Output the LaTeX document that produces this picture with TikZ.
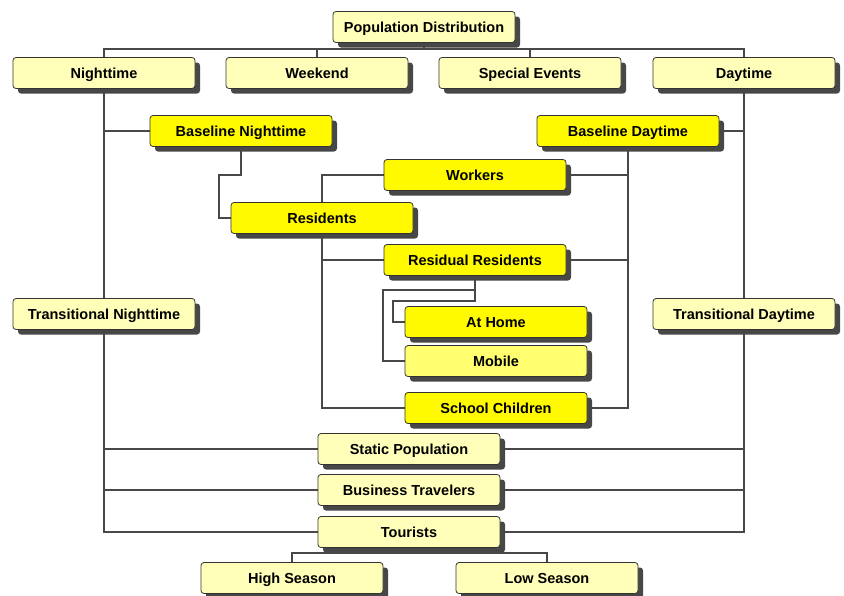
\documentclass[tikz,border=0pt]{standalone}
\usepackage{fontspec}
\setsansfont{Liberation Sans}
\usepackage{tikz}
\usetikzlibrary{shadows,backgrounds}

\definecolor{pale}{RGB}{255,255,186}
\definecolor{bright}{RGB}{255,250,0}
\definecolor{mid}{RGB}{255,255,112}
\definecolor{wire}{RGB}{72,72,72}

\begin{document}
\begin{tikzpicture}	[
		x = 1pt,
		y = -1pt,
		box/.style = {
			draw = black!80,
			line width = .8pt,
			rounded corners = 3pt,
			minimum width = 182pt,
			minimum height = 31pt,
			inner sep = 0pt,
			text height = 12pt,
			text depth = 1.6pt,
			font = \sffamily\bfseries\fontsize{14.5}{16}\selectfont,
			drop shadow = {shadow xshift = 5pt, shadow yshift = -5pt, fill = black!72, opacity = 1}
		},
		pbox/.style = {box, fill = pale},
		ybox/.style = {box, fill = bright},
		link/.style = {draw = wire, line width = 1.9pt}
	]
	\useasboundingbox (0,0) rectangle (844,595);

	\node [pbox] (popdist) at (424,27) {Population Distribution};

	\node [pbox] (night) at (104,73) {Nighttime};
	\node [pbox] (weekend) at (317,73) {Weekend};
	\node [pbox] (special) at (530,73) {Special Events};
	\node [pbox] (day) at (744,73) {Daytime};

	\node [ybox] (basenight) at (241,131) {Baseline Nighttime};
	\node [ybox] (baseday) at (628,131) {Baseline Daytime};

	\node [ybox] (workers) at (475,175) {Workers};
	\node [ybox] (residents) at (322,218) {Residents};
	\node [ybox] (residual) at (475,260) {Residual Residents};
	\node [ybox] (athome) at (496,322) {At Home};
	\node [box, fill=mid] (mobile) at (496,361) {Mobile};
	\node [ybox] (school) at (496,408) {School Children};

	\node [pbox] (transnight) at (104,314) {Transitional Nighttime};
	\node [pbox] (transday) at (744,314) {Transitional Daytime};

	\node [pbox] (static) at (409,449) {Static Population};
	\node [pbox] (business) at (409,490) {Business Travelers};
	\node [pbox] (tourists) at (409,532) {Tourists};

	\node [pbox] (high) at (292,578) {High Season};
	\node [pbox] (low) at (547,578) {Low Season};

	\coordinate (bus) at (424,49);

	\begin{pgfonlayer}{background}
	\draw [link] (popdist) -- (bus);
	\draw [link] (night.north) |- (bus) -| (day.north);
	\draw [link] (weekend.north) -- (weekend.north |- bus);
	\draw [link] (special.north) -- (special.north |- bus);

	\draw [link] (night.south) |- (tourists.west);
	\draw [link] (day.south) |- (tourists.east);
	\draw [link] (basenight.west) -- (basenight.west -| night.south);
	\draw [link] (baseday.east) -- (baseday.east -| day.south);
	\draw [link] (static.west) -- (static.west -| night.south);
	\draw [link] (static.east) -- (static.east -| day.south);
	\draw [link] (business.west) -- (business.west -| night.south);
	\draw [link] (business.east) -- (business.east -| day.south);

	\draw [link] (basenight.south) -- ++(0,28) -| ([xshift=-12pt]residents.west) -- (residents.west);
	\draw [link] (residents.north) |- (workers.west);
	\draw [link] (residents.south) |- (school.west);
	\draw [link] (residual.west) -- (residual.west -| residents.south);

	\draw [link] (baseday.south) |- (school.east);
	\draw [link] (workers.east) -- (workers.east -| baseday.south);
	\draw [link] (residual.east) -- (residual.east -| baseday.south);

	\draw [link] (residual.south) -- ++(0,25) -| ([xshift=-12pt]athome.west) -- (athome.west);
	\draw [link] (residual.south) -- ++(0,14) -| ([xshift=-22pt]mobile.west) -- (mobile.west);

	\draw [link] (tourists.south) -- ++(0,5) -| (high.north);
	\draw [link] (tourists.south) ++(0,5) -| (low.north);
	\end{pgfonlayer}
\end{tikzpicture}
\end{document}
